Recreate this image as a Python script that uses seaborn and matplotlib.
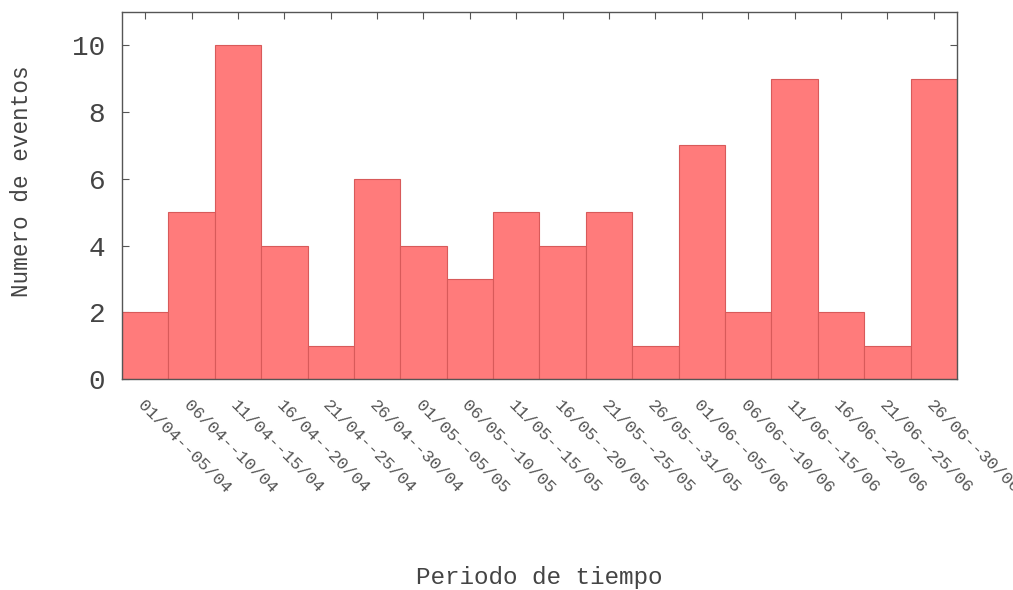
import matplotlib
matplotlib.use("Agg")
import matplotlib.pyplot as plt
import seaborn as sns
import pandas as pd

periods = ["01/04--05/04", "06/04--10/04", "11/04--15/04", "16/04--20/04",
           "21/04--25/04", "26/04--30/04", "01/05--05/05", "06/05--10/05",
           "11/05--15/05", "16/05--20/05", "21/05--25/05", "26/05--31/05",
           "01/06--05/06", "06/06--10/06", "11/06--15/06", "16/06--20/06",
           "21/06--25/06", "26/06--30/06"]
events = [2, 5, 10, 4, 1, 6, 4, 3, 5, 4, 5, 1, 7, 2, 9, 2, 1, 9]
yticks = [0, 2, 4, 6, 8, 10]

sns.set_style("ticks")
plt.rcParams["font.family"] = ["Liberation Mono", "DejaVu Sans Mono"]

df = pd.DataFrame({"periodo": periods, "eventos": events})

fig = plt.figure(figsize=(10.13, 5.90), dpi=100)
ax = fig.add_axes([0.1204, 0.3576, 0.8243, 0.6221])

sns.barplot(data=df, x="periodo", y="eventos", ax=ax, width=1.0,
            color="#ff7b7b", saturation=1, edgecolor="#d85a5a", linewidth=0.8)

ax.set_xlim(-0.5, len(periods) - 0.5)
ax.set_ylim(0, 11)
ax.set_yticks(yticks)
ax.set_yticklabels([str(v) for v in yticks], fontsize=20, color="#444444")
ax.set_xticks(range(len(periods)))
ax.set_xticklabels(periods, rotation=-45, ha="left", va="top",
                   rotation_mode="anchor", fontsize=12.5, color="#555555")

ax.tick_params(direction="in", top=True, right=True, length=5, width=0.8,
               color="#555555")
ax.tick_params(axis="x", pad=13)
ax.tick_params(axis="y", pad=12)
for s in ax.spines.values():
    s.set_visible(True)
    s.set_color("#555555")
    s.set_linewidth(1.0)

ax.set_xlabel("Periodo de tiempo", fontsize=17.5, color="#444444", va="center")
ax.xaxis.set_label_coords(0.5, -0.542)
ax.set_ylabel("Numero de eventos", fontsize=16.3, color="#444444", va="center")
ax.yaxis.set_label_coords(-0.12, 0.54)

fig.savefig("out.png", dpi=100)
